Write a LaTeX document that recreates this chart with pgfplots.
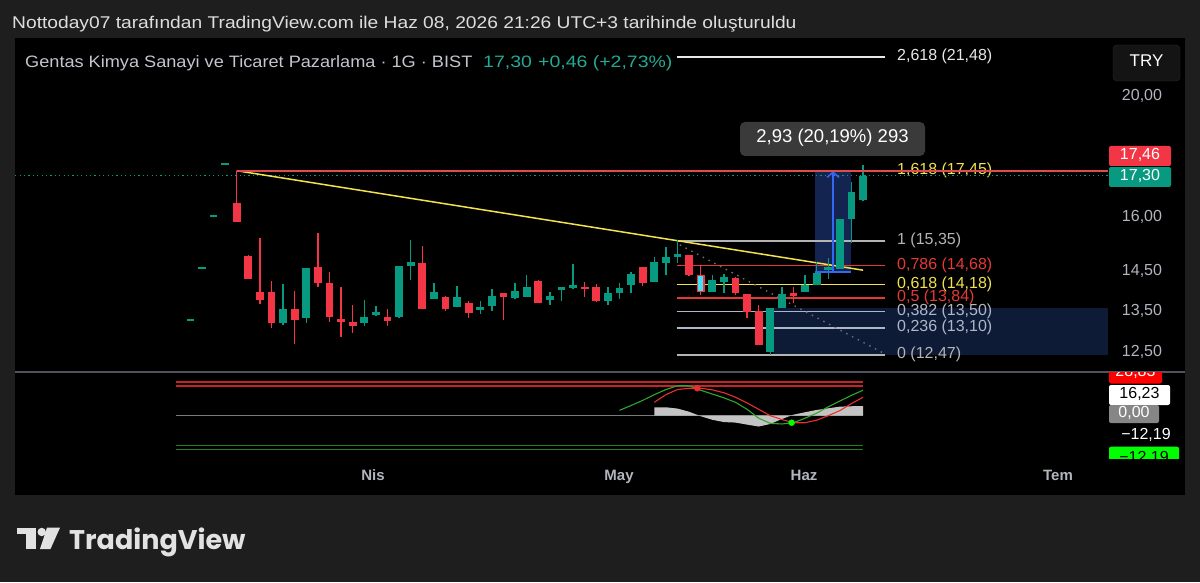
\documentclass[border=0pt]{standalone}
\usepackage{pgfplots}
\pgfplotsset{compat=1.18}
\usepackage{pgfplotstable}
\usepackage{fontspec}
\setmainfont{Liberation Sans}
\newfontfamily\logofont{Poppins}
\usetikzlibrary{arrows.meta}
\newcommand\fs[1]{\fontsize{#1}{#1}\selectfont}
\definecolor{outerbg}{HTML}{1E1E1E}
\definecolor{tvred}{HTML}{F23645}
\definecolor{tvgreen}{HTML}{089981}
\definecolor{tealtxt}{HTML}{22AB94}
\definecolor{rayred}{HTML}{E04A50}
\definecolor{trendyel}{HTML}{F2E24B}
\definecolor{fibwhite}{HTML}{E8E8E8}
\definecolor{fibgray}{HTML}{B4B4B4}
\definecolor{fibred}{HTML}{E53935}
\definecolor{fibyel}{HTML}{F2E24B}
\definecolor{fibslate}{HTML}{AEB7C8}
\definecolor{navy}{HTML}{0D1B36}
\definecolor{navytwo}{HTML}{142450}
\definecolor{mblue}{HTML}{3567F5}
\definecolor{lblgray}{HTML}{B2B5BE}
\definecolor{titlegray}{HTML}{C3C6CE}
\definecolor{hdr}{HTML}{DEDEDE}
\definecolor{boxgray}{HTML}{3A3A3A}
\definecolor{indred}{HTML}{C62424}
\definecolor{indgreen}{HTML}{1E801E}
\definecolor{oscgreen}{HTML}{2EA82E}
\definecolor{oscred}{HTML}{E83030}
\definecolor{histgray}{HTML}{C4C4C4}
\definecolor{cyanbody}{HTML}{3FE3F5}
\definecolor{limeg}{HTML}{00FF00}
\definecolor{sepgray}{HTML}{50535E}
\definecolor{trybg}{HTML}{141414}
\definecolor{trybd}{HTML}{2C2C2C}
\definecolor{logo}{HTML}{E2E2E2}
\definecolor{zerogray}{HTML}{7A7A7A}
\definecolor{dotgray}{HTML}{6E6E6E}

% candles: per candle two rows (x, wick end, body end), then a break
\pgfplotstableread{
x w b
1 15.90 15.90
1 17.46 16.46
nan nan nan
2 14.33 14.33
2 14.97 14.94
nan nan nan
3 13.69 13.79
3 15.44 13.99
nan nan nan
4 13.10 13.22
4 14.28 13.99
nan nan nan
6 12.72 13.29
6 14.02 13.56
nan nan nan
8 14.12 14.22
8 15.58 14.64
nan nan nan
9 13.24 13.37
9 14.51 14.22
nan nan nan
10 12.89 13.24
10 14.12 13.32
nan nan nan
11 12.98 13.15
11 13.66 13.24
nan nan nan
14 13.15 13.27
14 13.56 13.37
nan nan nan
17 13.56 13.56
17 15.22 14.75
nan nan nan
19 13.51 13.56
19 13.89 13.86
nan nan nan
21 13.34 13.46
21 13.76 13.71
nan nan nan
24 13.29 13.86
24 13.96 13.96
nan nan nan
27 13.71 13.71
27 14.30 14.28
nan nan nan
31 13.86 14.07
31 14.25 14.12
nan nan nan
32 13.74 13.76
32 14.20 14.12
nan nan nan
36 14.14 14.22
36 14.64 14.64
nan nan nan
40 14.41 14.43
40 14.97 14.97
nan nan nan
41 13.91 13.99
41 14.70 14.43
nan nan nan
44 13.91 13.96
44 14.38 14.35
nan nan nan
45 13.34 13.49
45 13.94 13.94
nan nan nan
46 12.70 12.70
46 13.66 13.51
nan nan nan
49 13.71 13.89
49 14.12 13.96
nan nan nan
}\redc

\pgfplotstableread{
x w b
5 13.17 13.22
5 14.20 13.56
nan nan nan
7 13.22 13.34
7 14.62 14.62
nan nan nan
12 13.15 13.22
12 13.79 13.37
nan nan nan
13 13.39 13.42
13 13.64 13.49
nan nan nan
15 13.34 13.37
15 14.67 14.67
nan nan nan
16 14.30 14.67
16 15.39 14.78
nan nan nan
18 13.81 13.81
18 14.22 13.99
nan nan nan
20 13.61 13.61
20 14.14 13.86
nan nan nan
22 13.44 13.54
22 13.76 13.61
nan nan nan
23 13.51 13.64
23 14.07 13.89
nan nan nan
25 13.81 13.84
25 14.22 14.02
nan nan nan
26 13.86 13.86
26 14.43 14.12
nan nan nan
28 13.66 13.79
28 13.99 13.89
nan nan nan
29 13.76 14.03
29 14.12 14.11
nan nan nan
30 14.07 14.09
30 14.72 14.17
nan nan nan
33 13.66 13.76
33 14.12 13.96
nan nan nan
34 13.81 13.96
34 14.22 14.09
nan nan nan
35 13.96 14.17
35 14.51 14.46
nan nan nan
37 14.25 14.25
37 14.91 14.78
nan nan nan
38 14.43 14.75
38 15.19 14.91
nan nan nan
39 14.75 14.91
39 15.39 15.00
nan nan nan
42 13.99 13.99
42 14.43 14.30
nan nan nan
43 13.96 14.25
43 14.46 14.38
nan nan nan
47 12.47 12.54
47 13.59 13.59
nan nan nan
48 13.59 13.59
48 14.12 13.94
nan nan nan
50 13.99 13.99
50 14.43 14.17
nan nan nan
51 14.17 14.17
51 14.78 14.48
nan nan nan
52 14.33 14.56
52 14.89 14.64
nan nan nan
53 14.59 14.59
53 15.99 15.99
nan nan nan
54 15.30 15.99
54 17.10 16.79
nan nan nan
55 16.52 16.55
55 17.64 17.30
nan nan nan
}\greenc

\pgfplotstableread{
x y
-4 12.10
-3 13.29
-2 14.62
-1 16.07
0 17.68
}\dashes

\pgfplotstableread{
x v
34 4.2
35 8
36 12
37 16.5
38 20.5
39 23.5
40 23.5
41 20
42 17
43 14
44 10.5
45 5
46 -2
47 -6
48 -6.5
49 -5.5
50 -2
51 2
52 7
53 11.5
54 16
55 20
}\oscg

\pgfplotstableread{
x v
37 10.5
38 16.5
39 20.5
40 21.5
41 21.5
42 20.3
43 18
44 14.5
45 10
46 5
47 0
48 -3
49 -5.5
50 -5.5
51 -3.5
52 0
53 4
54 9.5
55 14.5
}\oscr

\pgfplotstableread{
x v
37 0
37 6.6
38 6.6
39 5.6
40 3.1
41 -0.4
42 -3.2
43 -5.0
44 -5.4
45 -7.0
46 -8.5
47 -6.5
48 -2.6
49 0.8
50 2.7
51 4.5
52 5.8
53 7.1
54 7.4
55 7.6
55 0
}\hist

\begin{document}
\begin{tikzpicture}[lab/.style={inner sep=0pt, text depth=0pt, text height=0.716em}]
\fill[outerbg] (0,0) rectangle (1200pt,582pt);
\fill[black] (15pt,87pt) rectangle (1185pt,544pt);

% ---------------- price pane ----------------
\begin{axis}[at={(15pt,210pt)}, anchor=south west, scale only axis,
  width=1170pt, height=334pt,
  xmin=-18.112, xmax=82.75, ymode=log, ymin=12.089, ymax=22.249,
  hide axis, clip=false, unbounded coords=jump]
% zones
\addplot[fill=navy, draw=none] coordinates {(47.25,12.47) (76.11,12.47) (76.11,13.59) (47.25,13.59)};
\addplot[fill=navytwo, draw=none] coordinates {(50.85,14.51) (53.93,14.51) (53.93,17.44) (50.85,17.44)};
% fib levels
\addplot[fibwhite, line width=1.5pt] coordinates {(38.93,21.48) (56.89,21.48)};
\addplot[fibyel, line width=1.5pt] coordinates {(38.93,17.45) (56.89,17.45)};
\addplot[fibgray, line width=1.5pt] coordinates {(38.93,15.35) (56.89,15.35)};
\addplot[fibred, line width=1.5pt] coordinates {(38.93,14.68) (56.89,14.68)};
\addplot[fibyel, line width=1.5pt] coordinates {(38.93,14.18) (56.89,14.18)};
\addplot[fibred, line width=1.5pt] coordinates {(38.93,13.84) (56.89,13.84)};
\addplot[fibslate, line width=1.5pt] coordinates {(38.93,13.50) (56.89,13.50)};
\addplot[fibslate, line width=1.5pt] coordinates {(38.93,13.10) (56.89,13.10)};
\addplot[fibgray, line width=1.5pt] coordinates {(38.93,12.47) (56.89,12.47)};
% fib labels
\node[lab, anchor=west, text=fibwhite, font=\fs{16}] at (axis cs:57.92,21.48) {2,618 (21,48)};
\node[lab, anchor=west, text=fibyel, font=\fs{16}] at (axis cs:57.92,17.45) {1,618 (17,45)};
\node[lab, anchor=west, text=fibgray, font=\fs{16}] at (axis cs:57.92,15.35) {1 (15,35)};
\node[lab, anchor=west, text=fibred, font=\fs{16}] at (axis cs:57.92,14.68) {0,786 (14,68)};
\node[lab, anchor=west, text=fibyel, font=\fs{16}] at (axis cs:57.92,14.18) {0,618 (14,18)};
\node[lab, anchor=west, text=fibred, font=\fs{16}] at (axis cs:57.92,13.84) {0,5 (13,84)};
\node[lab, anchor=west, text=fibslate, font=\fs{16}] at (axis cs:57.92,13.50) {0,382 (13,50)};
\node[lab, anchor=west, text=fibslate, font=\fs{16}] at (axis cs:57.92,13.10) {0,236 (13,10)};
\node[lab, anchor=west, text=fibgray, font=\fs{16}] at (axis cs:57.92,12.47) {0 (12,47)};
% dotted fib trend
\addplot[dotgray, line width=1.4pt, dash pattern=on 1.5pt off 5pt] coordinates {(39.2,15.25) (56.7,12.52)};
% current price line
\addplot[tvgreen, line width=1.2pt, dash pattern=on 1.2pt off 3.2pt] coordinates {(-18.1,17.30) (76.11,17.30)};
% trend line
\addplot[trendyel, line width=1.5pt] coordinates {(1,17.46) (55.0,14.56)};
% early flat bars
\addplot[only marks, mark=-, mark size=3.75pt, mark options={line width=1.6pt}, color=tvgreen] table[x=x,y=y]{\dashes};
% candles
\addplot[tvred, line width=1.3pt] table[x=x,y=w]{\redc};
\addplot[tvred, line width=7.8pt] table[x=x,y=b]{\redc};
\addplot[tvgreen, line width=1.3pt] table[x=x,y=w]{\greenc};
\addplot[tvgreen, line width=7.8pt] table[x=x,y=b]{\greenc};
\addplot[cyanbody, line width=4.8pt] coordinates {(41,14.015) (41,14.405)};
% horizontal ray from the high
\addplot[rayred, line width=1.8pt] coordinates {(1,17.46) (76.11,17.46)};
% measure tool
\addplot[mblue, line width=1.5pt] coordinates {(50.85,14.51) (53.93,14.51)};
\addplot[mblue, line width=1.5pt, -{Straight Barb[length=5pt, width=12pt]}] coordinates {(52.41,14.51) (52.41,17.44)};
\end{axis}

% ---------------- indicator pane ----------------
\begin{axis}[at={(15pt,124pt)}, anchor=south west, scale only axis,
  width=1170pt, height=86pt,
  xmin=-18.112, xmax=82.75, ymin=-33.18, ymax=34.27,
  hide axis, clip=false]
\addplot[indred, line width=1.6pt] coordinates {(-4.23,26.4) (55,26.4)};
\addplot[indred, line width=1.6pt] coordinates {(-4.23,23.3) (55,23.3)};
\addplot[zerogray, line width=1.2pt] coordinates {(-4.23,0) (55,0)};
\addplot[indgreen, line width=1.6pt] coordinates {(-4.23,-23.4) (55,-23.4)};
\addplot[indgreen, line width=1.6pt] coordinates {(-4.23,-26.5) (55,-26.5)};
\addplot[fill=histgray, draw=none] table[x=x,y=v]{\hist};
\addplot[oscgreen, line width=1.1pt] table[x=x,y=v]{\oscg};
\addplot[oscred, line width=1.1pt] table[x=x,y=v]{\oscr};
\addplot[only marks, mark=*, mark size=3pt, color=oscred] coordinates {(40.7,21.5)};
\addplot[only marks, mark=*, mark size=3pt, color=limeg] coordinates {(48.84,-5.5)};
\end{axis}

% ---------------- texts and chrome (pixel coordinates, y down) ----------------
\begin{scope}[shift={(0pt,582pt)}, x=1pt, y=-1pt]
\draw[sepgray, line width=1.5pt] (15,372) -- (1185,372);
\node[lab, anchor=west, text=hdr, font=\fs{17}] at (12,25) {\scalebox{1.13}[1]{Nottoday07 tarafından TradingView.com ile Haz 08, 2026 21:26 UTC+3 tarihinde oluşturuldu}};
\node[lab, anchor=west, text=titlegray, font=\fs{16.5}] at (25,64) {\scalebox{1.10}[1]{Gentas Kimya Sanayi ve Ticaret Pazarlama · 1G · BIST}};
\node[lab, anchor=west, text=tealtxt, font=\fs{16.5}] at (483,64) {\scalebox{1.18}[1]{17,30}};
\node[lab, anchor=west, text=tealtxt, font=\fs{16.5}] at (538,64) {\scalebox{1.18}[1]{+0,46 (+2,73\%)}};
% TRY
\draw[fill=trybg, draw=trybd, rounded corners=4pt] (1113,45) rectangle (1180,81);
\node[lab, text=white, font=\fs{17}] at (1146.5,63) {TRY};
% price scale
\node[lab, text=lblgray, font=\fs{16}] at (1142,97) {20,00};
\node[lab, text=lblgray, font=\fs{16}] at (1142,218) {16,00};
\node[lab, text=lblgray, font=\fs{16}] at (1142,272) {14,50};
\node[lab, text=lblgray, font=\fs{16}] at (1142,312) {13,50};
\node[lab, text=lblgray, font=\fs{16}] at (1142,353) {12,50};
\fill[tvred, rounded corners=2pt] (1109,146) rectangle (1171,166);
\node[lab, text=white, font=\fs{16}] at (1140,156) {17,46};
\fill[tvgreen, rounded corners=2pt] (1109,167) rectangle (1171,187);
\node[lab, text=white, font=\fs{16}] at (1140,177) {17,30};
% measure label
\fill[boxgray, rounded corners=5pt] (740,122) rectangle (925,156);
\node[lab, text=white, font=\fs{18.5}] at (832.5,139) {2,93 (20,19\%) 293};
% indicator scale
\begin{scope}
\clip (1100,372.8) rectangle (1190,458.5);
\fill[red, rounded corners=2pt] (1109,362) rectangle (1162,383.5);
\node[lab, text=white, font=\fs{16}] at (1135.5,372.5) {28,83};
\fill[limeg, rounded corners=2pt] (1109,446.7) rectangle (1179,472);
\node[lab, text=black, font=\fs{16}] at (1144,459) {−12,19};
\end{scope}
\fill[white, rounded corners=2pt] (1109,385) rectangle (1170,405);
\node[lab, text=black, font=\fs{16}] at (1139.5,395) {16,23};
\fill[gray!95!white, rounded corners=2pt] (1109,405) rectangle (1159,423);
\node[lab, text=white, font=\fs{16}] at (1134,414) {0,00};
\node[lab, text=white, font=\fs{16}] at (1146,436) {−12,19};
% time axis
\node[lab, text=lblgray, font=\bfseries\fs{15}] at (373,477) {Nis};
\node[lab, text=lblgray, font=\bfseries\fs{15}] at (619,477) {May};
\node[lab, text=lblgray, font=\bfseries\fs{15}] at (804,477) {Haz};
\node[lab, text=lblgray, font=\bfseries\fs{15}] at (1058,477) {Tem};
% logo
\fill[logo] (17.3,527.7) rectangle (36,534.3);
\fill[logo] (26,527.7) rectangle (36,549);
\fill[logo] (41.7,532) circle (4.2);
\fill[logo] (47,527.7) -- (60,527.7) -- (50.5,549) -- (40,549) -- cycle;
\node[anchor=base west, inner sep=0pt, text=logo, font={\logofont\bfseries\fs{27}}] at (69,549) {TradingView};
\end{scope}
\pgfresetboundingbox
\path (0,0) rectangle (1200pt,582pt);
\end{tikzpicture}
\end{document}
